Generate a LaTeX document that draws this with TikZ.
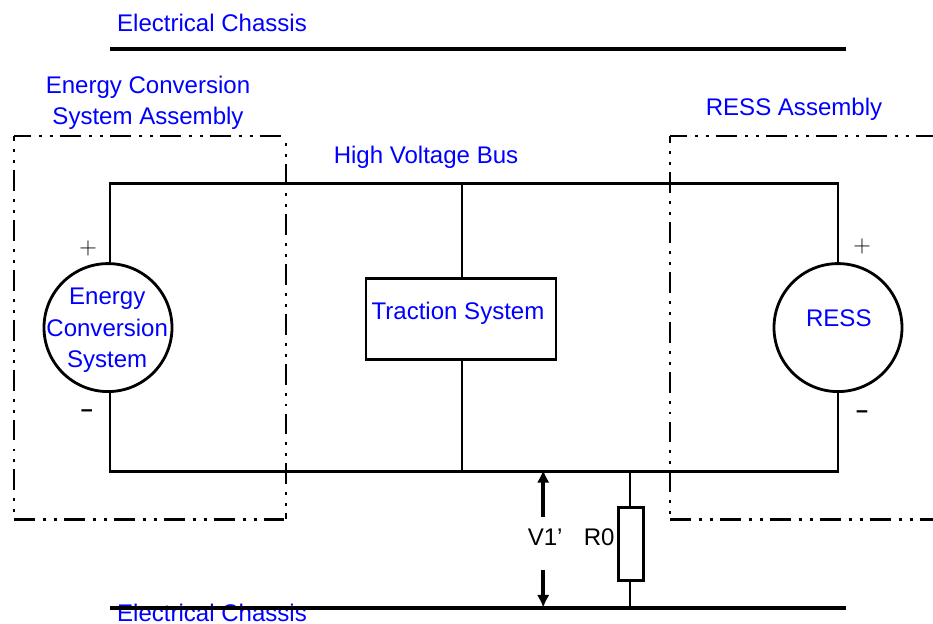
\documentclass[tikz,border=0pt]{standalone}
\usepackage{graphicx}
\usepackage{fontspec}
\setmainfont{Liberation Sans}
\usetikzlibrary{arrows.meta}
\tikzset{
	wire/.style={line width=2pt},
	chassis/.style={line width=2.8pt},
	assembly/.style={line width=1.9pt,dash pattern=on 14.9pt off 5.7pt on 2.1pt off 5.7pt on 2.1pt off 5pt},
	source/.style={draw,circle,line width=2pt,minimum size=3.2cm,inner sep=0pt},
	part/.style={draw,rectangle,line width=2pt,inner sep=0pt},
	bluelabel/.style={text=blue,align=center,inner sep=0pt},
	blacklabel/.style={text=black,inner sep=0pt},
	voltage/.style={-{Latex[length=9pt,width=9pt]},line width=2.5pt},
	every node/.append style={font=\fontsize{17.1}{22.5}\selectfont}
}
\begin{document}
\begin{tikzpicture}
	\useasboundingbox (0,0) rectangle (23.325,15.6);

	% chassis
	\coordinate (chassisTopL) at (2.75,14.38);
	\coordinate (chassisTopR) at (21.15,14.38);
	\coordinate (chassisBotL) at (2.75,0.41);
	\coordinate (chassisBotR) at (21.15,0.41);
	\node[bluelabel] (chassisTopLabel) at (5.3,15.02) {Electrical Chassis};
	\node[bluelabel,anchor=base] (chassisBotLabel) at (5.3,0.06) {Electrical Chassis};
	\draw[chassis] (chassisTopL) -- (chassisTopR);
	\draw[chassis] (chassisBotL) -- (chassisBotR);

	% sources and load
	\node[source] (ecs) at (2.7,7.41) {};
	\node[source] (ress) at (20.95,7.41) {};
	\node[bluelabel] (ecsText) at (2.68,7.34) {Energy\\Conversion\\System};
	\node[bluelabel] (ressText) at (20.97,7.65) {RESS};
	\node[part,minimum width=4.75cm,minimum height=2.02cm] (traction) at (11.525,7.62) {};
	\node[bluelabel] (tractionText) at (11.45,7.77) {Traction System};
	\node[part,minimum width=0.62cm,minimum height=1.82cm] (rzero) at (15.78,2) {};

	% bus
	\coordinate (busTL) at (2.75,11.02);
	\coordinate (busTR) at (20.95,11.02);
	\coordinate (busBL) at (2.75,3.82);
	\coordinate (busBR) at (20.95,3.82);
	\coordinate (busTM) at (11.55,11.02);
	\coordinate (busBM) at (11.55,3.82);
	\coordinate (busBR0) at (15.75,3.82);
	\coordinate (chassisR0) at (15.75,0.41);
	\draw[wire] (ecs.north -| busTL) -- (busTL) -- (busTR) -- (ress.north);
	\draw[wire] (ecs.south -| busBL) -- (busBL) -- (busBR) -- (ress.south);
	\draw[wire] (busTM) -- (busTM |- traction.north);
	\draw[wire] (busBM) -- (busBM |- traction.south);
	\draw[wire] (busBR0) -- (busBR0 |- rzero.north);
	\draw[wire] (chassisR0) -- (chassisR0 |- rzero.south);

	% assemblies
	\coordinate (ecsBoxTL) at (0.35,12.2);
	\coordinate (ecsBoxTR) at (7.15,12.2);
	\coordinate (ecsBoxBL) at (0.35,2.62);
	\coordinate (ecsBoxBR) at (7.15,2.62);
	\coordinate (ressBoxTL) at (16.75,12.2);
	\coordinate (ressBoxTR) at (23.325,12.2);
	\coordinate (ressBoxBL) at (16.75,2.62);
	\coordinate (ressBoxBR) at (23.325,2.62);
	\draw[assembly,dash phase=2.8pt] (ecsBoxTL) -- (ecsBoxTR);
	\draw[assembly] (ecsBoxBL) -- (ecsBoxBR);
	\draw[assembly,dash phase=11.3pt] (ecsBoxTL) -- (ecsBoxBL);
	\draw[assembly,dash phase=15.6pt] (ecsBoxTR) -- (ecsBoxBR);
	\draw[assembly,dash phase=2.8pt] (ressBoxTL) -- (ressBoxTR);
	\draw[assembly] (ressBoxBL) -- (ressBoxBR);
	\draw[assembly,dash phase=9.9pt] (ressBoxTL) -- (ressBoxBL);
	\node[bluelabel] (ecsLabel) at (3.7,13.03) {Energy Conversion\\System Assembly};
	\node[bluelabel] (ressLabel) at (19.85,12.86) {RESS Assembly};
	\node[bluelabel] (busLabel) at (10.65,11.68) {High Voltage Bus};

	% voltage
	\node[blacklabel] (vone) at (13.63,2.17) {V1’};
	\node[blacklabel] (rzeroLabel) at (14.98,2.17) {R0};
	\coordinate (voneTop) at (13.58,3.85);
	\coordinate (voneBot) at (13.58,0.41);
	\coordinate (voneTopTail) at (13.58,2.68);
	\coordinate (voneBotTail) at (13.58,1.35);
	\draw[voltage] (voneTopTail) -- (voneTop);
	\draw[voltage] (voneBotTail) -- (voneBot);

	% polarity
	\node[blacklabel] (ecsPlus) at (2.2,9.38) {$+$};
	\node[blacklabel] (ecsMinus) at (2.17,5.25) {\scalebox{1.8}[1.2]{-}};
	\node[blacklabel] (ressPlus) at (21.55,9.43) {$+$};
	\node[blacklabel] (ressMinus) at (21.55,5.22) {\scalebox{1.8}[1.2]{-}};
\end{tikzpicture}
\end{document}
